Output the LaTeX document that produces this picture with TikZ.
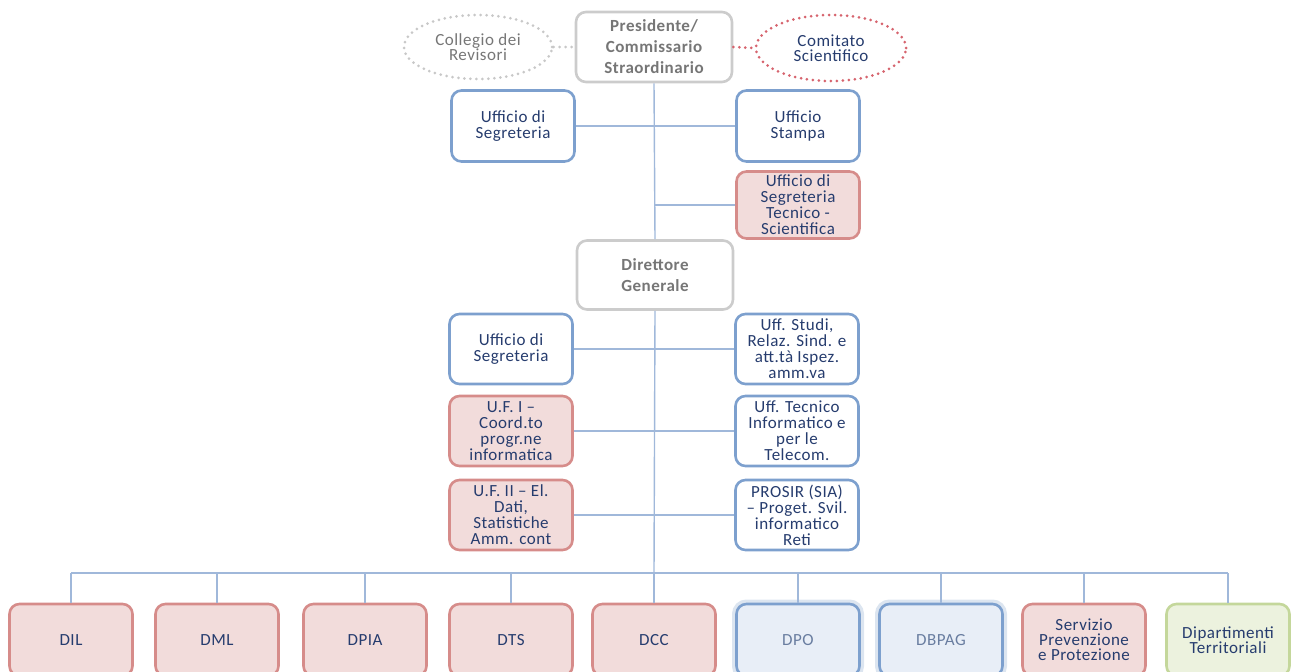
\documentclass[tikz,border=0pt]{standalone}
\usepackage{fontspec}
\setmainfont{Carlito}
\newfontfamily\boxfont[LetterSpace=3]{Carlito}
\usetikzlibrary{shapes.geometric}
\definecolor{linkblue}{RGB}{160,184,218}
\definecolor{bluedge}{RGB}{125,160,206}
\definecolor{bluefill}{RGB}{232,238,247}
\definecolor{halo}{RGB}{220,229,240}
\definecolor{rededge}{RGB}{214,140,138}
\definecolor{redfill}{RGB}{242,220,219}
\definecolor{greenedge}{RGB}{196,215,155}
\definecolor{greenfill}{RGB}{236,242,222}
\definecolor{grayedge}{RGB}{204,204,204}
\definecolor{graytext}{RGB}{118,118,118}
\definecolor{navy}{RGB}{38,60,110}
\definecolor{softnavy}{RGB}{105,125,160}
\definecolor{dotred}{RGB}{214,100,110}
\definecolor{dotgray}{RGB}{200,200,200}
\tikzset{
  box/.style={rounded corners=10pt, line width=2.6pt, align=center, inner sep=0pt,
    minimum width=123pt, minimum height=70pt, text=navy,
    font=\boxfont\fontsize{17}{16}\selectfont},
  bluebox/.style={box, draw=bluedge, fill=white},
  redbox/.style={box, draw=rededge, fill=redfill},
  greenbox/.style={box, draw=greenedge, fill=greenfill},
  graybox/.style={box, draw=grayedge, fill=white, text=graytext,
    minimum width=156pt, font=\boxfont\bfseries\fontsize{17}{21}\selectfont},
  dept/.style={minimum height=72pt, font=\boxfont\fontsize{17}{15}\selectfont},
  halobox/.style={box, draw=bluedge, fill=bluefill, text=softnavy,
    preaction={draw=halo, line width=9pt}},
  dotellipse/.style={ellipse, line width=3pt, dash pattern=on 0pt off 6pt,
    line cap=round, align=center, inner sep=0pt, minimum width=148pt,
    minimum height=64pt, font=\boxfont\fontsize{17}{15}\selectfont},
  link/.style={draw=linkblue, line width=1.4pt},
}
\begin{document}
\begin{tikzpicture}[x=1pt, y=-1pt]
\useasboundingbox (0,0) rectangle (1291,672);

% top management
\node[graybox] (pres) at (654,47) {Presidente/\\Commissario\\Straordinario};
\node[dotellipse, draw=dotgray, text=graytext] (coll) at (478,47) {Collegio dei\\Revisori};
\node[dotellipse, draw=dotred, text=navy, minimum width=150pt, minimum height=66pt] (comi) at (831,48) {Comitato\\Scientifico};

\node[bluebox, minimum height=71pt] (useg1) at (513,126) {Ufficio di\\Segreteria};
\node[bluebox, minimum height=71pt] (ustampa) at (798,126) {Ufficio\\Stampa};
\node[redbox, minimum height=67pt] (usts) at (798,205) {Ufficio di\\Segreteria\\Tecnico -\\Scientifica};

\node[graybox, minimum height=69pt] (dir) at (655,275) {Direttore\\Generale};

\node[bluebox] (useg2) at (511,349) {Ufficio di\\Segreteria};
\node[bluebox] (ustudi) at (797,349) {Uff. Studi,\\Relaz. Sind. e\\att.tà Ispez.\\amm.va};
\node[redbox] (ufone) at (511,431) {U.F. I –\\Coord.to\\progr.ne\\informatica};
\node[bluebox] (utec) at (797,431) {Uff. Tecnico\\Informatico e\\per le\\Telecom.};
\node[redbox] (uftwo) at (511,515) {U.F. II – El.\\Dati,\\Statistiche\\Amm. cont};
\node[bluebox] (prosir) at (797,515) {PROSIR (SIA)\\– Proget. Svil.\\informatico\\Reti};

% departments
\node[redbox, dept] (dil) at (71,640) {DIL};
\node[redbox, dept] (dml) at (217,640) {DML};
\node[redbox, dept] (dpia) at (365,640) {DPIA};
\node[redbox, dept] (dts) at (511,640) {DTS};
\node[redbox, dept] (dcc) at (654,640) {DCC};
\node[halobox, dept] (dpo) at (798,640) {DPO};
\node[halobox, dept] (dbpag) at (941,640) {DBPAG};
\node[redbox, dept] (spp) at (1084,640) {Servizio\\Prevenzione\\e Protezione};
\node[greenbox, dept] (dterr) at (1228,640) {Dipartimenti\\Territoriali};

\coordinate (bus) at (654,573);

% dotted links beside the president
\draw[dotgray, line width=3pt, dash pattern=on 0pt off 6pt, line cap=round] (coll.east) -- (pres.west);
\draw[dotred, line width=3pt, dash pattern=on 0pt off 6pt, line cap=round] (pres.east) -- (comi.west);

% trunk and branches
\draw[link] (pres.south) -- (dir.north);
\draw[link] (dir.south) -- (bus);
\draw[link] (useg1.east) -- (ustampa.west);
\draw[link] (pres.south |- usts.west) -- (usts.west);
\draw[link] (useg2.east) -- (ustudi.west);
\draw[link] (ufone.east) -- (utec.west);
\draw[link] (uftwo.east) -- (prosir.west);

% bus to the departments
\draw[link] (dil.north |- bus) -- (dterr.north |- bus);
\foreach \d in {dil,dml,dpia,dts,dcc,dpo,dbpag,spp,dterr}
  \draw[link] (\d.north |- bus) -- (\d.north);
\end{tikzpicture}
\end{document}
